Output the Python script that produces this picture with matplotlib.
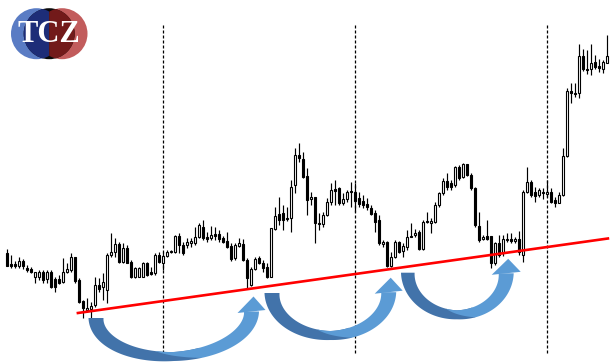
import numpy as np
import matplotlib
matplotlib.use('Agg')
import matplotlib.pyplot as plt
from matplotlib.patches import Circle, Polygon

# OHLC candles (price points)
opens = [111, 100, 100, 98, 103, 96, 95, 87, 87, 92, 85, 92, 85, 85, 82, 92, 94, 107, 84, 63,
         54, 55, 59, 79, 77, 74, 109, 112, 120, 102, 116, 102, 87, 87, 87, 101, 92, 91, 109, 101,
         108, 112, 112, 128, 119, 119, 121, 121, 127, 137, 127, 126, 130, 130, 126, 123, 118, 106, 118, 120,
         104, 79, 95, 106, 101, 97, 87, 135, 150, 151, 146, 146, 179, 209, 205, 188, 165, 167, 141, 140,
         149, 162, 175, 176, 161, 165, 173, 172, 166, 163, 160, 156, 151, 144, 120, 122, 98, 107, 122, 113,
         117, 128, 129, 132, 115, 143, 141, 142, 159, 171, 183, 181, 179, 197, 187, 200, 189, 176, 138, 125,
         128, 128, 101, 121, 111, 124, 125, 123, 125, 109, 172, 182, 172, 169, 172, 170, 172, 164, 161, 169,
         208, 273, 271, 271, 308, 295, 295, 302, 298, 295, 301]
highs = [115, 109, 103, 107, 105, 99, 97, 92, 94, 94, 94, 94, 87, 89, 106, 101, 111, 107, 86, 64,
         66, 62, 87, 86, 91, 111, 131, 126, 122, 121, 119, 104, 97, 97, 102, 102, 97, 111, 112, 112,
         114, 114, 129, 131, 122, 126, 126, 137, 141, 144, 132, 138, 137, 134, 128, 132, 121, 121, 126, 125,
         106, 97, 107, 108, 104, 101, 136, 157, 167, 159, 157, 184, 216, 221, 212, 196, 172, 167, 151, 152,
         166, 181, 184, 177, 171, 174, 182, 181, 172, 169, 166, 159, 154, 149, 124, 123, 112, 124, 123, 121,
         134, 141, 135, 134, 144, 152, 146, 162, 172, 186, 191, 184, 198, 199, 201, 200, 191, 177, 152, 129,
         144, 128, 122, 129, 129, 131, 131, 127, 133, 174, 197, 184, 177, 176, 176, 184, 176, 167, 172, 216,
         276, 281, 281, 320, 315, 314, 320, 309, 305, 304, 329]
lows = [98, 96, 96, 96, 95, 92, 91, 81, 84, 81, 81, 76, 72, 80, 81, 91, 92, 81, 61, 46,
        52, 44, 57, 72, 64, 61, 107, 107, 101, 101, 101, 86, 86, 87, 87, 88, 89, 89, 101, 94,
        107, 111, 111, 111, 109, 116, 117, 119, 126, 124, 122, 124, 124, 122, 121, 116, 103, 104, 117, 103,
        76, 78, 94, 100, 92, 86, 87, 134, 139, 134, 143, 132, 171, 202, 186, 149, 159, 121, 134, 137,
        148, 159, 159, 159, 159, 162, 157, 152, 157, 156, 154, 149, 132, 119, 117, 97, 97, 106, 111, 107,
        114, 127, 127, 114, 114, 141, 131, 141, 157, 169, 174, 174, 177, 184, 186, 188, 174, 137, 122, 124,
        124, 96, 99, 107, 108, 122, 121, 121, 109, 102, 171, 167, 162, 167, 165, 167, 161, 157, 161, 168,
        207, 261, 267, 266, 293, 290, 289, 295, 292, 291, 301]
closes = [98, 98, 98, 103, 98, 94, 92, 92, 92, 84, 92, 77, 77, 81, 92, 95, 107, 83, 62, 56,
          56, 58, 79, 75, 82, 109, 112, 120, 102, 116, 101, 87, 96, 96, 101, 89, 90, 109, 102, 108,
          112, 113, 128, 119, 111, 122, 123, 127, 139, 126, 125, 129, 128, 125, 122, 117, 105, 119, 121, 104,
          86, 95, 105, 101, 96, 87, 136, 148, 144, 144, 145, 177, 209, 206, 187, 164, 167, 141, 140, 149,
          162, 174, 173, 161, 165, 172, 172, 163, 160, 159, 157, 150, 142, 121, 122, 98, 107, 122, 112, 118,
          127, 127, 131, 115, 142, 142, 143, 159, 171, 183, 177, 177, 197, 186, 200, 189, 176, 139, 124, 127,
          125, 101, 121, 109, 125, 125, 123, 125, 112, 172, 182, 169, 168, 174, 171, 172, 162, 161, 169, 208,
          273, 271, 270, 308, 295, 294, 301, 297, 296, 302, 308]

# support line (candle index, price) and the three cycle marks (candle index)
trend_x = [17.8, 150.3]
trend_y = [51, 125.5]
cycle_marks = [39, 87, 135]

o = np.array(opens)
h = np.array(highs)
l = np.array(lows)
c = np.array(closes)
x = np.arange(len(o))
up = c > o

fig = plt.figure(figsize=(6.16, 3.64), dpi=100, facecolor='white')
ax = fig.add_axes([0, 0, 1, 1])
ax.axis('off')

ax.vlines(x, l, h, color='black', lw=0.85, zorder=2)
ax.bar(x, np.abs(c - o), bottom=np.minimum(o, c), width=0.55,
       color=np.where(up, 'white', 'black'), edgecolor='black', linewidth=0.8, zorder=3)
ax.vlines(cycle_marks, 11.3, 341.3, colors='black', lw=0.9,
          linestyles=(0, (2.4, 1.6)), zorder=1)
ax.plot(trend_x, trend_y, color='red', lw=1.9, zorder=4)
ax.set_xlim(-1.675, 152.325)
ax.set_ylim(0, 364)

# overlay in pixel units for the logo and arrows
ov = fig.add_axes([0, 0, 1, 1])
ov.set_xlim(0, 616)
ov.set_ylim(364, 0)
ov.axis('off')
ov.patch.set_alpha(0)

# TCZ logo
r, cy = 25.5, 33.7
bx, mx, rx_ = 36.5, 49.2, 62.0
ov.add_patch(Circle((bx, cy), r, color='#5a7cc4', lw=0))
ov.add_patch(Circle((rx_, cy), r, color='#c25c5c', lw=0))
mid = Circle((mx, cy), r, color='#0a0a0a', lw=0)
ov.add_patch(mid)
t = np.linspace(0, 2 * np.pi, 200)
navy = Polygon(np.column_stack([np.minimum(bx + r * np.cos(t), mx), cy + r * np.sin(t)]),
               color='#1d2d78', lw=0)
ov.add_patch(navy)
navy.set_clip_path(mid)
maroon = Polygon(np.column_stack([np.maximum(rx_ + r * np.cos(t), mx), cy + r * np.sin(t)]),
                 color='#721a1a', lw=0)
ov.add_patch(maroon)
maroon.set_clip_path(mid)
ov.text(48.5, 42.5, 'TCZ', color='white', fontsize=22, fontweight='bold',
        family='Liberation Serif', ha='center', va='baseline')


def curved_arrow(ax, start, end, bottom, w0, wb, w1, head_hw, head_len):
    x0, y0 = start
    x1, y1 = end
    cx, rx = (x0 + x1) / 2, (x1 - x0) / 2
    cyy, k = (y0 + y1) / 2, (y0 - y1) / 2
    ry = bottom - wb - cyy

    def band(t0, t1, ramp=False):
        th = np.linspace(t0, t1, 120)
        px = cx + rx * np.cos(th)
        py = cyy + ry * np.sin(th) - k * np.cos(th)
        dx = -rx * np.sin(th)
        dy = ry * np.cos(th) + k * np.sin(th)
        n = np.hypot(dx, dy)
        nx, ny = dy / n, -dx / n
        s = np.abs(th - np.pi / 2) / (np.pi / 2)
        w = np.where(th > np.pi / 2, wb + (w0 - wb) * s, wb + (w1 - wb) * s)
        inner_off = -w
        if ramp:
            outer_off = -w + 2 * w * np.clip((t0 - th) / 0.6, 0, 1)
        else:
            outer_off = w
        outer = np.column_stack([px + outer_off * nx, py + outer_off * ny])
        inner = np.column_stack([px + inner_off * nx, py + inner_off * ny])
        return np.vstack([outer, inner[::-1]])

    ax.add_patch(Polygon(band(np.pi, np.pi / 2 - 0.35), color='#4273aa', lw=0, zorder=5))
    ax.add_patch(Polygon(band(np.pi / 2 + 0.25, 0, ramp=True), color='#5b9bd5', lw=0, zorder=6))
    ax.add_patch(Polygon([(x1 - head_hw, y1 + 1.5), (x1 + 2, y1 - head_len),
                          (x1 + head_hw, y1 - 1.5)], color='#5b9bd5', lw=0, zorder=6))


curved_arrow(ov, (96, 318), (251.5, 311.5), 361, 7.5, 4.5, 7.5, 14, 15)
curved_arrow(ov, (272, 293), (388.7, 292.2), 340, 7.5, 4.5, 7.5, 14, 14.5)
curved_arrow(ov, (407.8, 272.7), (506.2, 273.3), 319.3, 6.8, 4.5, 7.5, 14.5, 14.5)

fig.savefig('out.png', dpi=100)
